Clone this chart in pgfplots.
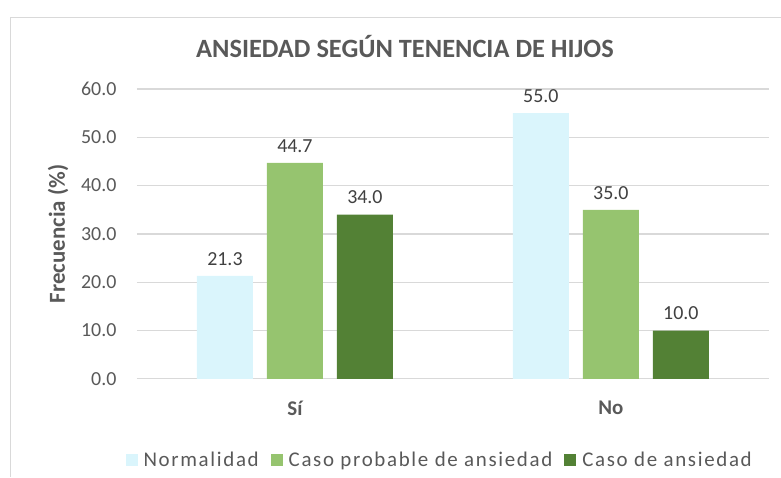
\documentclass[border=0pt]{standalone}
\usepackage{fontspec}
\setmainfont{Carlito}
\usepackage{pgfplots}
\pgfplotsset{compat=1.18}
\definecolor{txt}{HTML}{595959}
\definecolor{lbl}{HTML}{404040}
\definecolor{gridc}{HTML}{D9D9D9}
\definecolor{cnorm}{HTML}{DAF5FC}
\definecolor{cprob}{HTML}{96C46F}
\definecolor{cans}{HTML}{538135}
\begin{document}
\begin{tikzpicture}[x=1bp,y=1bp]
\path (0,0) rectangle (781,477);
\draw[gridc] (10,0) -- (10,460) -- (781,460);
\node[txt,font=\fontsize{26.5}{30}\selectfont\bfseries] at (405,430) {ANSIEDAD SEGÚN TENENCIA DE HIJOS};
\node[txt,font=\fontsize{23}{27}\selectfont\bfseries,rotate=90] at (58,243) {Frecuencia (\%)};
\begin{axis}[
  at={(137bp,98bp)}, anchor=south west,
  scale only axis, width=632bp, height=290bp,
  ybar=14bp, bar width=56bp,
  xmin=-0.5, xmax=1.5, ymin=0, ymax=60,
  xtick={0,1}, xticklabels={Sí,No},
  ytick={0,10,...,60},
  yticklabel={\pgfmathprintnumber[fixed,fixed zerofill,precision=1]{\tick}},
  /pgf/number format/assume math mode=true,
  axis line style={draw=none},
  major tick length=0pt,
  ymajorgrids, grid style={gridc,line width=1.2bp},
  xticklabel style={txt,font=\fontsize{21}{25}\selectfont\bfseries,yshift=-19bp},
  yticklabel style={txt,font=\fontsize{20}{24}\selectfont,xshift=-17bp},
  nodes near coords={\pgfmathprintnumber[fixed,fixed zerofill,precision=1]{\pgfplotspointmeta}},
  every node near coord/.append style={lbl,font=\fontsize{20}{24}\selectfont,yshift=7bp},
  legend style={at={(0.479,-0.279)},anchor=center,draw=none,
    font=\fontsize{21}{25}\selectfont\addfontfeature{LetterSpace=8},text=txt,legend columns=3,
    /tikz/every even column/.append style={column sep=10bp}},
  legend image code/.code={\fill[#1] (0bp,-6bp) rectangle (12bp,6bp); \path (16bp,0bp);},
]
\addplot[fill=cnorm,draw=none] coordinates {(0,21.3) (1,55.0)};
\addlegendentry{Normalidad}
\addplot[fill=cprob,draw=none] coordinates {(0,44.7) (1,35.0)};
\addlegendentry{Caso probable de ansiedad}
\addplot[fill=cans,draw=none] coordinates {(0,34.0) (1,10.0)};
\addlegendentry{Caso de ansiedad}
\end{axis}
\end{tikzpicture}
\end{document}
